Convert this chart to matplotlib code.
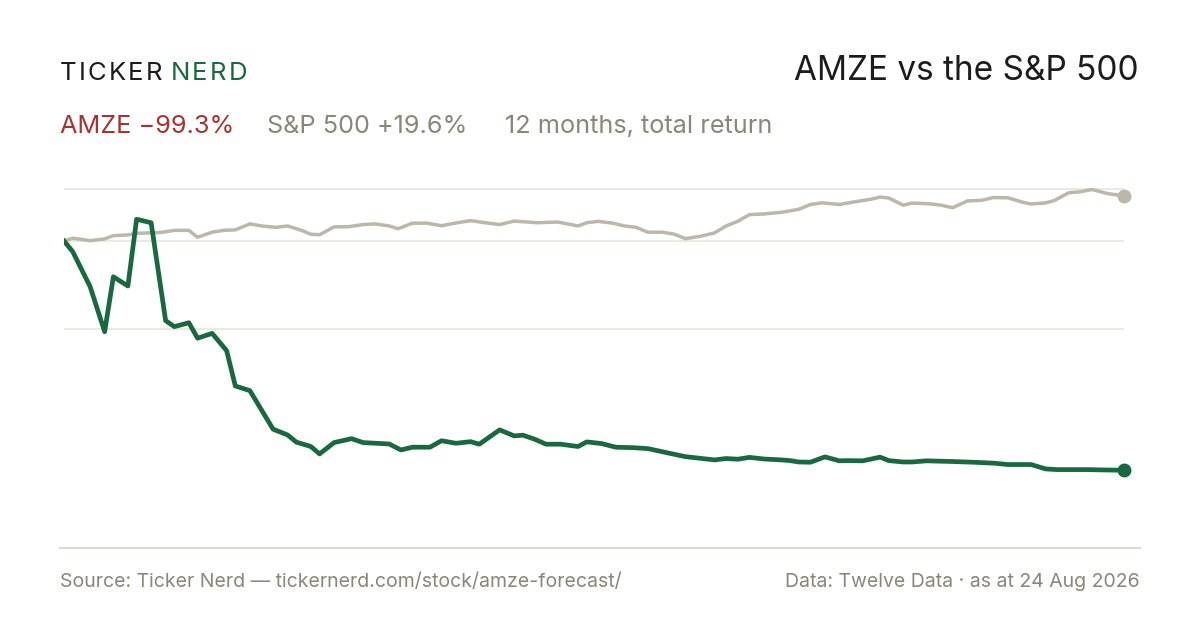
import matplotlib
matplotlib.use("Agg")
import matplotlib.pyplot as plt

'''
    AMZE vs the S&P 500, 12 months total return (%)
'''

# days since start of the 12 month window, and total return in %
spx_days = [0, 3, 6, 9, 14, 17, 22, 25, 32, 34, 38, 43, 46, 51, 55, 59, 64, 68, 73, 77,
            82, 85, 88, 93, 98, 103, 107, 112, 115, 120, 125, 130, 135, 140, 145, 150,
            155, 163, 170, 177, 180, 184, 189, 193, 197, 201, 206, 210, 214, 219, 224,
            228, 232, 236, 241, 247, 253, 257, 261, 267, 273, 278, 281, 284, 289, 292,
            298, 302, 306, 311, 316, 320, 325, 330, 333, 338, 341, 346, 350, 354, 359,
            361, 365]
spx_ret = [0.0, 1.2, 0.7, 0.1, 0.9, 2.3, 2.6, 3.3, 3.6, 3.8, 4.6, 4.6, 1.6, 3.8, 4.6, 4.8,
           7.4, 6.5, 5.9, 6.5, 4.5, 2.9, 2.7, 6.1, 6.2, 7.1, 7.4, 6.5, 5.3, 7.7, 7.7, 6.6,
           7.8, 8.8, 7.9, 7.1, 8.6, 7.9, 8.2, 6.5, 7.9, 8.5, 7.7, 6.5, 5.9, 3.8, 3.8, 3.0,
           1.0, 2.0, 3.5, 6.5, 8.5, 11.4, 11.7, 12.4, 13.7, 15.8, 16.5, 15.8, 17.1, 18.1,
           19.0, 18.6, 15.5, 16.4, 16.1, 15.5, 14.4, 17.3, 17.6, 18.8, 18.7, 16.8, 16.0,
           16.5, 17.5, 20.9, 21.3, 22.3, 20.6, 20.2, 19.6]

amze_days = [0, 3, 9, 14, 17, 22, 25, 30, 35, 38, 43, 46, 51, 56, 59, 64, 72, 77, 80, 85,
             88, 93, 99, 103, 112, 116, 120, 126, 130, 135, 140, 143, 150, 155, 158, 162,
             166, 171, 177, 180, 185, 190, 196, 201, 211, 214, 224, 228, 232, 236, 241,
             247, 250, 253, 257, 262, 267, 270, 275, 281, 284, 289, 292, 297, 306, 313,
             320, 325, 333, 338, 342, 352, 365]
amze_ret = [0.0, -4.6, -19.8, -39.3, -15.5, -19.5, 9.4, 7.9, -34.5, -37.1, -35.4, -42.1,
            -40.0, -47.5, -62.8, -64.8, -81.5, -84.0, -87.1, -89.0, -92.2, -87.3, -85.6,
            -87.3, -87.9, -90.5, -89.3, -89.3, -86.5, -87.6, -86.9, -88.0, -81.8, -84.4,
            -84.1, -85.8, -88.0, -88.0, -89.0, -87.0, -87.7, -89.3, -89.5, -89.9, -92.6,
            -93.4, -94.8, -94.2, -94.5, -93.7, -94.4, -94.8, -95.1, -95.7, -95.8, -93.5,
            -95.2, -95.1, -95.2, -93.6, -95.1, -95.7, -95.7, -95.2, -95.5, -95.8, -96.2,
            -96.8, -96.8, -98.7, -99.0, -99.0, -99.3]

grid_vals = [22.5, 0.0, -38.1]

title = "AMZE vs the S&P 500"
amze_label = "AMZE \u221299.3%"
spx_label = "S&P 500 +19.6%"
period_label = "12 months, total return"
source_text = "Source: Ticker Nerd \u2014 tickernerd.com/stock/amze-forecast/"
data_text = "Data: Twelve Data \u00b7 as at 24 Aug 2026"

# colours
green = "#18693f"
grey_line = "#bdb6aa"
grey_text = "#8b8678"
red = "#a8322e"
dark = "#1c1c1c"

W, H = 1200, 630
plt.rcParams['font.family'] = ['Inter', 'DejaVu Sans']

fig = plt.figure(figsize=(W / 100, H / 100), dpi=100)
fig.patch.set_facecolor("white")


def px(x, y):
    # pixel position -> figure fraction
    return x / W, 1 - y / H


def tracked(x, y, s, color, size, gap):
    # draw letters one by one with extra spacing
    r = fig.canvas.get_renderer()
    for ch in s:
        t = fig.text(*px(x, y), ch, color=color, fontsize=size, va="baseline", ha="left")
        x += t.get_window_extent(renderer=r).width + gap
    return x


# ---- plot area
ax = fig.add_axes([64 / W, 1 - 480 / H, 1060 / W, 300 / H])
ax.set_xlim(0, 365)
ax.set_ylim(-103.5, 26.4)
ax.axis("off")

for g in grid_vals:
    ax.axhline(g, color="#e9e5de", linewidth=1.2, zorder=0)

ax.plot(spx_days, spx_ret, color=grey_line, linewidth=2.5, solid_joinstyle="round", zorder=2)
ax.plot(amze_days, amze_ret, color=green, linewidth=3.4, solid_joinstyle="round", zorder=3)
ax.plot(spx_days[-1], spx_ret[-1], "o", color=grey_line, markersize=9, clip_on=False, zorder=4)
ax.plot(amze_days[-1], amze_ret[-1], "o", color=green, markersize=9, clip_on=False, zorder=4)

# ---- header
xe = tracked(60, 80, "TICKER", dark, 18.5, 2.2)
tracked(xe + 6, 80, "NERD", green, 18.5, 2.2)

fig.text(*px(1139, 80), title, color=dark, fontsize=24, ha="right", va="baseline")

fig.text(*px(60, 133), amze_label, color=red, fontsize=18.2, ha="left", va="baseline")
fig.text(*px(267, 133), spx_label, color=grey_text, fontsize=18.2, ha="left", va="baseline")
fig.text(*px(505, 133), period_label, color=grey_text, fontsize=18.2, ha="left", va="baseline")

# ---- footer
fig.add_artist(plt.Line2D([60 / W, 1140 / W], [1 - 548 / H, 1 - 548 / H],
                          color="#dedacf", linewidth=1.5))
fig.text(*px(60, 587), source_text, color=grey_text, fontsize=14, ha="left", va="baseline")
fig.text(*px(1140, 587), data_text, color=grey_text, fontsize=14, ha="right", va="baseline")

fig.savefig("out.png", dpi=100, facecolor="white")
